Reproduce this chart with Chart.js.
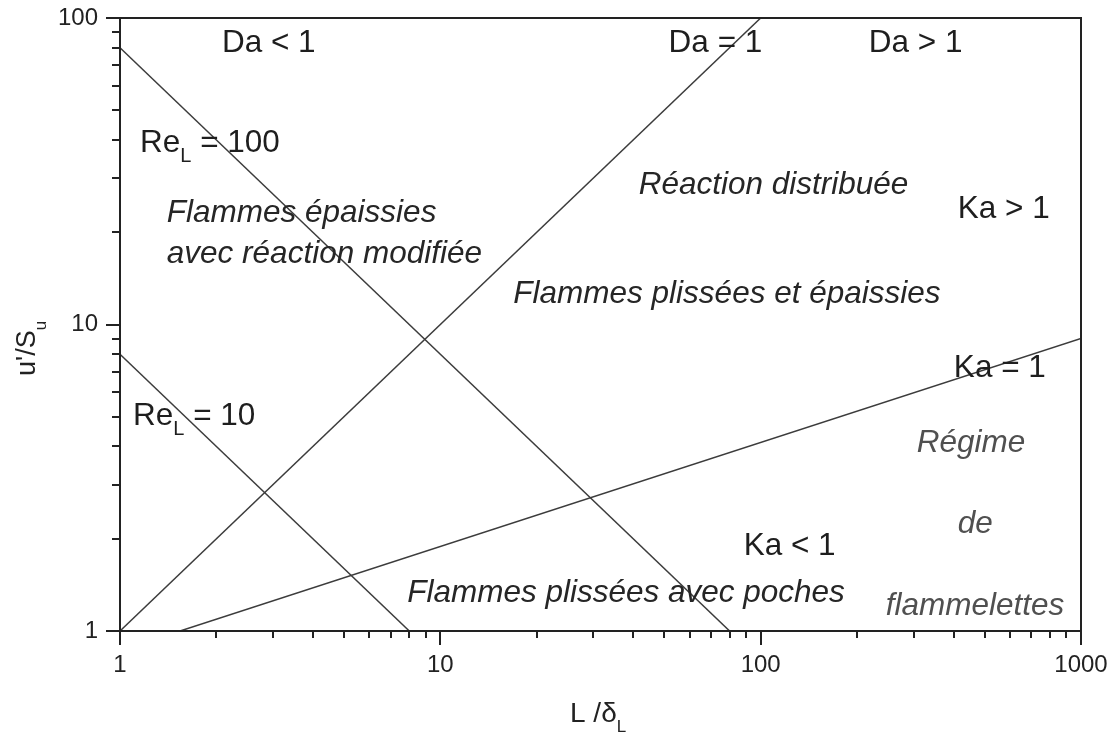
<!DOCTYPE html>
<html lang="fr">
<head>
<meta charset="utf-8">
<title>Diagramme de combustion turbulente</title>
<script src="https://cdn.jsdelivr.net/npm/chart.js@4.4.0/dist/chart.umd.min.js"></script>
<style>
  body { margin: 0; background: #fff; }
  canvas { display: block; }
</style>
</head>
<body>
<canvas id="graphique-regimes" width="1118" height="735"></canvas>
<script>
// Graduations (échelles log)
const xTickLabels = [1, 10, 100, 1000];
const yTickLabels = [1, 10, 100];
const minorSteps = [2, 3, 4, 5, 6, 7, 8, 9];

// Droites du diagramme (L/δL, u'/Su)
const reL100X = [1, 80];
const reL100Y = [80, 1];
const reL10X = [1, 8];
const reL10Y = [8, 1];
const da1X = [1, 100];
const da1Y = [1, 100];
const ka1X = [1.54, 1000];
const ka1Y = [1, 9];

// Textes du diagramme, ancrés en coordonnées de données
const annotationTexts = [
  [{ t: "Da < 1" }],
  [{ t: "Da = 1" }],
  [{ t: "Da > 1" }],
  [{ t: "Re" }, { t: "L", sub: true }, { t: " = 100" }],
  [{ t: "Re" }, { t: "L", sub: true }, { t: " = 10" }],
  [{ t: "Flammes épaissies" }],
  [{ t: "avec réaction modifiée" }],
  [{ t: "Réaction distribuée" }],
  [{ t: "Flammes plissées et épaissies" }],
  [{ t: "Ka > 1" }],
  [{ t: "Ka = 1" }],
  [{ t: "Ka < 1" }],
  [{ t: "Flammes plissées avec poches" }],
  [{ t: "Régime" }],
  [{ t: "de" }],
  [{ t: "flammelettes" }]
];
const annotationX = [2.08, 51.6, 217.6, 1.155, 1.098, 1.40, 1.40, 41.6, 16.9, 412.6, 401, 88.5, 7.88, 307, 412.6, 245.7];
const annotationY = [77.5, 77.5, 77.5, 36.5, 4.70, 21.6, 15.9, 26.7, 11.75, 22.3, 6.74, 1.77, 1.243, 3.84, 2.09, 1.128];
const annotationKind = ["n", "n", "n", "n", "n", "i", "i", "i", "i", "n", "n", "n", "i", "g", "g", "g"];

const police = "'Liberation Sans', Arial, sans-serif";

function toPoints(xs, ys) {
  return xs.map((x, i) => ({ x: x, y: ys[i] }));
}

function buildTicks(labels) {
  const values = [];
  for (let i = 0; i < labels.length; i++) {
    values.push({ value: labels[i] });
    if (i < labels.length - 1) {
      minorSteps.forEach(m => values.push({ value: labels[i] * m }));
    }
  }
  return values;
}

// pas de marge automatique pour les étiquettes
function noPadding(s) {
  s.paddingTop = 0;
  s.paddingBottom = 0;
  s.paddingLeft = 0;
  s.paddingRight = 0;
}

// Écrit un texte avec éventuels indices
function drawParts(ctx, parts, x, y, size, style, subOffset) {
  let cx = x;
  parts.forEach(p => {
    if (p.sub) {
      ctx.font = `${style} ${Math.round(size * 0.62)}px ${police}`;
      ctx.fillText(p.t, cx, y + subOffset);
    } else {
      ctx.font = `${style} ${size}px ${police}`;
      ctx.fillText(p.t, cx, y);
    }
    cx += ctx.measureText(p.t).width;
  });
}

const decorPlugin = {
  id: "decor",
  afterDatasetsDraw(chart) {
    const ctx = chart.ctx;
    const sx = chart.scales.x;
    const sy = chart.scales.y;
    const a = chart.chartArea;

    ctx.save();
    // cadre
    ctx.strokeStyle = "#222";
    ctx.lineWidth = 2;
    ctx.strokeRect(a.left, a.top, a.right - a.left, a.bottom - a.top);

    // graduations extérieures
    ctx.beginPath();
    sx.ticks.forEach(t => {
      const px = Math.round(sx.getPixelForValue(t.value));
      const len = xTickLabels.includes(t.value) ? 14 : 7;
      ctx.moveTo(px, a.bottom);
      ctx.lineTo(px, a.bottom + len);
    });
    sy.ticks.forEach(t => {
      const py = Math.round(sy.getPixelForValue(t.value));
      const len = yTickLabels.includes(t.value) ? 14 : 8;
      ctx.moveTo(a.left, py);
      ctx.lineTo(a.left - len, py);
    });
    ctx.stroke();

    // textes des régions
    ctx.textAlign = "left";
    ctx.textBaseline = "alphabetic";
    for (let i = 0; i < annotationTexts.length; i++) {
      const px = sx.getPixelForValue(annotationX[i]);
      const py = sy.getPixelForValue(annotationY[i]);
      const kind = annotationKind[i];
      ctx.fillStyle = kind === "n" ? "#1e1e1e" : (kind === "i" ? "#262626" : "#505050");
      drawParts(ctx, annotationTexts[i], px, py, 31.5, kind === "n" ? "normal" : "italic", 10);
    }

    // titres des axes
    ctx.fillStyle = "#222";
    drawParts(ctx, [{ t: "L /δ" }, { t: "L", sub: true }], 570, 722, 28, "normal", 10);

    ctx.translate(35, 376);
    ctx.rotate(-Math.PI / 2);
    drawParts(ctx, [{ t: "u'/S" }, { t: "u", sub: true }], 0, 0, 27, "normal", 11);
    ctx.restore();
  }
};

const styleDroite = {
  showLine: true,
  pointRadius: 0,
  borderColor: "#3c3c3c",
  borderWidth: 1.5,
  fill: false
};

const data = {
  datasets: [
    { ...styleDroite, label: "ReL = 100", data: toPoints(reL100X, reL100Y) },
    { ...styleDroite, label: "ReL = 10", data: toPoints(reL10X, reL10Y) },
    { ...styleDroite, label: "Da = 1", data: toPoints(da1X, da1Y) },
    { ...styleDroite, label: "Ka = 1", data: toPoints(ka1X, ka1Y) }
  ]
};

const config = {
  type: "scatter",
  data: data,
  options: {
    responsive: false,
    animation: false,
    layout: { padding: { top: 18, right: 37, left: 0, bottom: 0 } },
    plugins: {
      legend: { display: false },
      tooltip: { enabled: false }
    },
    scales: {
      x: {
        type: "logarithmic",
        min: 1,
        max: 1000,
        afterBuildTicks: s => { s.ticks = buildTicks(xTickLabels); },
        afterFit: s => { s.height = 104; noPadding(s); },
        grid: { display: true, drawOnChartArea: false, drawTicks: false },
        border: { display: true, color: "#222", width: 2 },
        ticks: {
          autoSkip: false,
          maxRotation: 0,
          padding: 20,
          color: "#222",
          font: { family: police, size: 24 },
          callback: v => xTickLabels.includes(v) ? String(v) : ""
        }
      },
      y: {
        type: "logarithmic",
        min: 1,
        max: 100,
        afterBuildTicks: s => { s.ticks = buildTicks(yTickLabels); },
        afterFit: s => { s.width = 120; noPadding(s); },
        grid: { display: true, drawOnChartArea: false, drawTicks: false },
        border: { display: true, color: "#222", width: 2 },
        ticks: {
          autoSkip: false,
          padding: 22,
          color: "#222",
          font: { family: police, size: 24 },
          callback: v => yTickLabels.includes(v) ? String(v) : ""
        }
      }
    }
  },
  plugins: [decorPlugin]
};

const graphiqueRegimes = new Chart(document.querySelector("#graphique-regimes"), config);
</script>
</body>
</html>
